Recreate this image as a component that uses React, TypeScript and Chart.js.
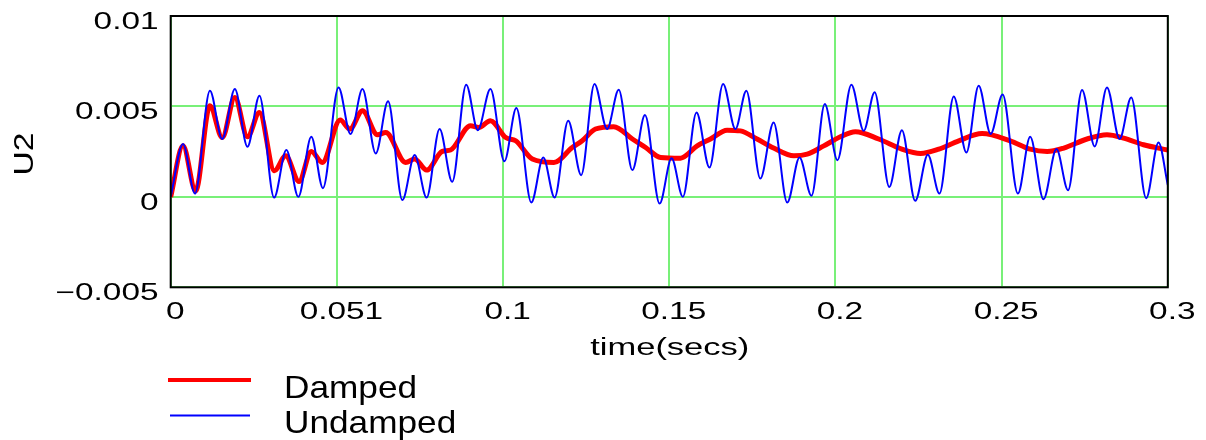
import React, { useEffect, useRef } from "react";
import { Chart, registerables } from "chart.js";

Chart.register(...registerables);

// ---- data ----
const undampedT = [
  0, 0.0037, 0.0073, 0.0118, 0.0155, 0.0193, 0.0231, 0.0267, 0.0311, 0.0348,
  0.0384, 0.0423, 0.0458, 0.0505, 0.0541, 0.0577, 0.0617, 0.0654, 0.0697, 0.0734,
  0.077, 0.0809, 0.0847, 0.0889, 0.0924, 0.0962, 0.1004, 0.104, 0.1085, 0.1121,
  0.1155, 0.1196, 0.1235, 0.1275, 0.1313, 0.1348, 0.1389, 0.1427, 0.1471, 0.1507,
  0.1541, 0.1582, 0.1621, 0.1662, 0.1699, 0.1732, 0.1774, 0.1814, 0.1855, 0.1892,
  0.1928, 0.1968, 0.2006, 0.2048, 0.2085, 0.2118, 0.2162, 0.22, 0.224, 0.2278,
  0.2313, 0.2356, 0.2394, 0.2431, 0.2467, 0.2503, 0.2549, 0.2586, 0.2626, 0.2665,
  0.27, 0.2742, 0.278, 0.2817, 0.2855, 0.289, 0.2935, 0.2972, 0.3,
];
const undampedU = [
  0, 0.00292, 0.00018, 0.00587, 0.0032, 0.00596, 0.00277, 0.00559, -0.00004, 0.00259,
  0.0, 0.00332, 0.00048, 0.00605, 0.00347, 0.00596, 0.0024, 0.00528, -0.00018, 0.00231,
  -0.00004, 0.00375, 0.00083, 0.0062, 0.00369, 0.00596, 0.00197, 0.00491, -0.00031, 0.00218,
  -0.00004, 0.00421, 0.0012, 0.00624, 0.00375, 0.00592, 0.00148, 0.00452, -0.00037, 0.00213,
  0.0, 0.00467, 0.00162, 0.00624, 0.00375, 0.00587, 0.00101, 0.00411, -0.00031, 0.00218,
  0.00006, 0.00513, 0.00203, 0.0062, 0.00365, 0.00578, 0.00055, 0.00369, -0.00022, 0.00233,
  0.00018, 0.00555, 0.00245, 0.00615, 0.00348, 0.00566, 0.00018, 0.00332, -0.00013, 0.00264,
  0.00037, 0.00591, 0.00279, 0.00605, 0.0032, 0.0055, -0.00007, 0.00301, 0.00066,
];

const dampedT = [
  0, 0.0037, 0.0075, 0.0118, 0.0155, 0.0193, 0.0231, 0.0267, 0.0312, 0.0346,
  0.0386, 0.0423, 0.0456, 0.051, 0.0539, 0.0577, 0.0622, 0.0647, 0.0707, 0.0734,
  0.077, 0.0817, 0.0842, 0.0902, 0.0927, 0.0962, 0.1008, 0.1038, 0.1088, 0.1153,
  0.1208, 0.1238, 0.1278, 0.1333, 0.1389, 0.1429, 0.1474, 0.1534, 0.1584, 0.1624,
  0.1674, 0.1714, 0.1764, 0.1814, 0.1875, 0.1915, 0.1965, 0.2015, 0.206, 0.213,
  0.22, 0.2256, 0.2311, 0.2371, 0.2441, 0.2526, 0.2586, 0.2637, 0.2687, 0.2757,
  0.2817, 0.2867, 0.2927, 0.3,
];
const dampedU = [
  0, 0.00282, 0.00033, 0.00504, 0.00328, 0.0055, 0.00332, 0.00467, 0.00144, 0.00227,
  0.00085, 0.00251, 0.0019, 0.00425, 0.00375, 0.00476, 0.00343, 0.00356, 0.0019, 0.00209,
  0.00148, 0.00251, 0.00259, 0.00393, 0.00384, 0.00421, 0.00328, 0.0031, 0.00209, 0.0019,
  0.00273, 0.0031, 0.00375, 0.00388, 0.0032, 0.00273, 0.00218, 0.00214, 0.00282, 0.0032,
  0.00369, 0.00365, 0.0032, 0.0027, 0.00227, 0.00236, 0.00282, 0.00332, 0.0036, 0.0032,
  0.00264, 0.0024, 0.00264, 0.0031, 0.0035, 0.0031, 0.00264, 0.00251, 0.0027, 0.0032,
  0.00343, 0.00325, 0.00288, 0.00259,
];

const xTickValues = [0, 0.05, 0.1, 0.15, 0.2, 0.25, 0.3];
const xTickLabels = ["0", "0.051", "0.1", "0.15", "0.2", "0.25", "0.3"];
const yTickValues = [0.01, 0.005, 0, -0.005];
const yTickLabels = ["0.01", "0.005", "0", "\u22120.005"];

const seriesNames = ["Damped", "Undamped"];
const xTitle = "time(secs)";
const yTitle = "U2";

const FONT = "'Liberation Sans', Arial, sans-serif";

function drawStretched(
  ctx: CanvasRenderingContext2D,
  text: string,
  x: number,
  y: number,
  align: CanvasTextAlign,
  sx: number,
  size: number,
  rotate = 0
) {
  ctx.save();
  ctx.translate(x, y);
  if (rotate) ctx.rotate(rotate);
  ctx.scale(sx, 1);
  ctx.font = `${size}px ${FONT}`;
  ctx.fillStyle = "#000";
  ctx.textAlign = align;
  ctx.textBaseline = "alphabetic";
  ctx.fillText(text, 0, 0);
  ctx.restore();
}

const decorPlugin = {
  id: "decor",
  afterDraw(chart: any) {
    const { ctx, chartArea, scales } = chart;
    const { left, top, right, bottom } = chartArea;
    // frame
    ctx.save();
    ctx.strokeStyle = "#000";
    ctx.lineWidth = 2;
    ctx.strokeRect(left, top, right - left, bottom - top);
    ctx.restore();

    // y tick labels
    yTickValues.forEach((v, i) => {
      const py = scales.y.getPixelForValue(v);
      drawStretched(ctx, yTickLabels[i], 158.5, py + 12.7, "right", 1.45, 23);
    });
    // x tick labels
    xTickValues.forEach((v, i) => {
      const px = scales.x.getPixelForValue(v);
      drawStretched(ctx, xTickLabels[i], px + 4.5, 319.3, "center", 1.45, 23);
    });
    // axis titles
    drawStretched(ctx, xTitle, (left + right) / 2 + 0.5, 355, "center", 1.5, 23);
    drawStretched(ctx, yTitle, 33.3, 154, "center", 1.2, 28, -Math.PI / 2);

    // legend
    ctx.save();
    ctx.lineCap = "butt";
    ctx.strokeStyle = "#ff0000";
    ctx.lineWidth = 4;
    ctx.beginPath();
    ctx.moveTo(168, 380);
    ctx.lineTo(251, 380);
    ctx.stroke();
    ctx.strokeStyle = "#0000ff";
    ctx.lineWidth = 2;
    ctx.beginPath();
    ctx.moveTo(170, 415.5);
    ctx.lineTo(250, 415.5);
    ctx.stroke();
    ctx.restore();
    drawStretched(ctx, seriesNames[0], 284, 398.3, "left", 1.1, 32);
    drawStretched(ctx, seriesNames[1], 284, 433.3, "left", 1.1, 32);
  },
};

export default function App() {
  const canvasRef = useRef<HTMLCanvasElement | null>(null);

  useEffect(() => {
    if (!canvasRef.current) return;
    const undamped = undampedT.map((t, i) => ({ x: t, y: undampedU[i] }));
    const damped = dampedT.map((t, i) => ({ x: t, y: dampedU[i] }));
    const gridStyle = { color: "#78f078", lineWidth: 2, drawTicks: false };
    const chart = new Chart(canvasRef.current, {
      type: "line",
      data: {
        datasets: [
          {
            label: seriesNames[1],
            data: undamped,
            borderColor: "#0000ff",
            borderWidth: 2,
            pointRadius: 0,
            cubicInterpolationMode: "monotone",
            fill: false,
          },
          {
            label: seriesNames[0],
            data: damped,
            borderColor: "#ff0000",
            borderWidth: 5,
            pointRadius: 0,
            cubicInterpolationMode: "monotone",
            fill: false,
          },
        ],
      },
      options: {
        responsive: true,
        maintainAspectRatio: false,
        animation: false,
        layout: { padding: { left: 0, right: 38.2, top: 16, bottom: 0 } },
        plugins: {
          legend: { display: false },
          tooltip: { enabled: false },
        },
        scales: {
          x: {
            type: "linear",
            min: 0,
            max: 0.3,
            ticks: { display: false, stepSize: 0.05 },
            grid: gridStyle,
            border: { display: false },
            afterFit: (s: any) => {
              s.height = 152.7;
            },
          },
          y: {
            type: "linear",
            min: -0.005,
            max: 0.01,
            ticks: { display: false, stepSize: 0.005 },
            grid: gridStyle,
            border: { display: false },
            afterFit: (s: any) => {
              s.width = 170.7;
            },
          },
        },
      } as any,
      plugins: [decorPlugin],
    });
    return () => chart.destroy();
  }, []);

  return (
    <div style={{ position: "absolute", left: 0, top: 0, width: 1206, height: 440, background: "#fff" }}>
      <canvas ref={canvasRef} />
    </div>
  );
}
